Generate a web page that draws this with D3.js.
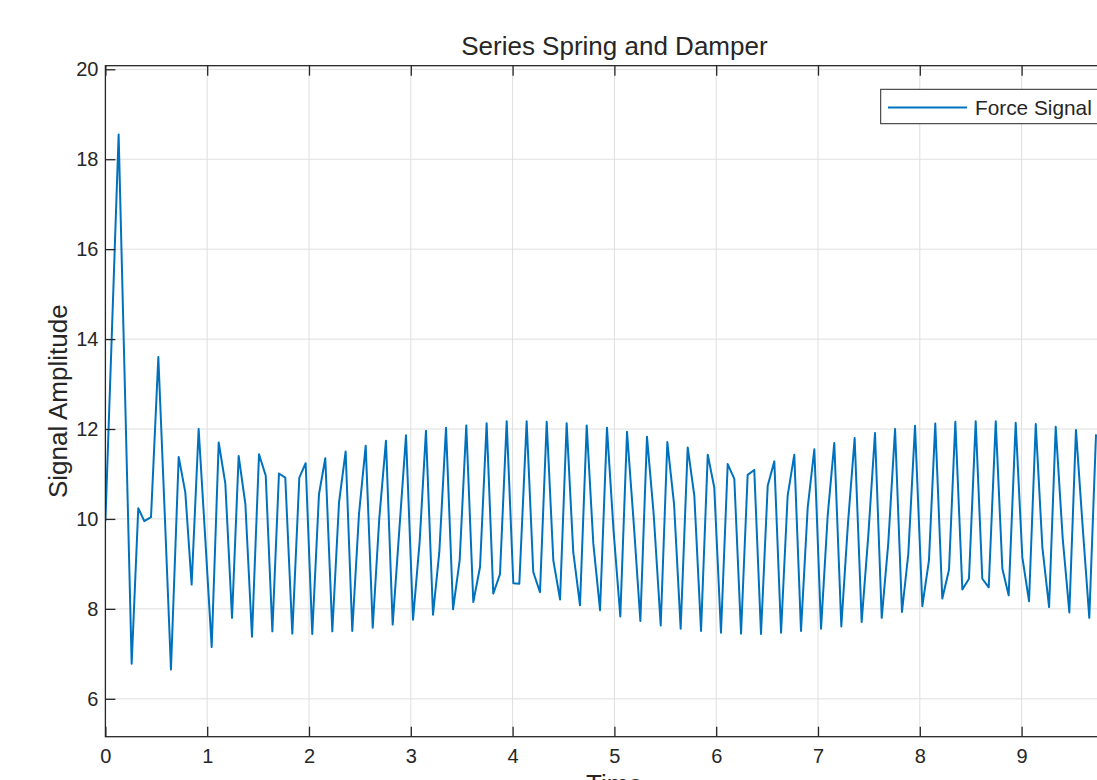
<!DOCTYPE html>
<html>
<head>
<meta charset="utf-8">
<script src="https://cdn.jsdelivr.net/npm/d3@7"></script>
<style>
  body { margin: 0; background: white; }
  text { font-family: "Liberation Sans", Arial, Helvetica, sans-serif; fill: #262626; }
</style>
</head>
<body>
<div id="chart"></div>
<script>
// sample times (s)
const times = [
  0.000, 0.066, 0.130, 0.195, 0.258, 0.323, 0.382, 0.448, 0.520, 0.585,
  0.644, 0.720, 0.785, 0.847, 0.916, 0.980, 1.044, 1.113, 1.178, 1.244,
  1.309, 1.375, 1.440, 1.509, 1.575, 1.640, 1.705, 1.767, 1.836, 1.905,
  1.967, 2.032, 2.098, 2.160, 2.229, 2.295, 2.360, 2.425, 2.491, 2.557,
  2.626, 2.690, 2.756, 2.822, 2.887, 2.953, 3.022, 3.087, 3.149, 3.218,
  3.280, 3.346, 3.415, 3.480, 3.545, 3.614, 3.680, 3.745, 3.810, 3.876,
  3.942, 4.007, 4.066, 4.138, 4.203, 4.269, 4.335, 4.400, 4.466, 4.531,
  4.596, 4.662, 4.728, 4.793, 4.859, 4.927, 4.993, 5.058, 5.124, 5.190,
  5.255, 5.320, 5.386, 5.455, 5.520, 5.586, 5.651, 5.720, 5.785, 5.851,
  5.917, 5.981, 6.047, 6.113, 6.178, 6.244, 6.309, 6.374, 6.440, 6.506,
  6.571, 6.637, 6.702, 6.767, 6.833, 6.899, 6.964, 7.030, 7.095, 7.160,
  7.229, 7.294, 7.360, 7.429, 7.494, 7.560, 7.626, 7.690, 7.757, 7.825,
  7.887, 7.953, 8.025, 8.090, 8.152, 8.221, 8.287, 8.349, 8.418, 8.483,
  8.549, 8.614, 8.677, 8.746, 8.811, 8.873, 8.942, 9.007, 9.073, 9.139,
  9.204, 9.270, 9.335, 9.404, 9.469, 9.534, 9.600, 9.665, 9.731
]

// force signal amplitude at each sample
const force = [
  9.95, 14.30, 18.55, 12.60, 6.78, 10.24, 9.95, 10.04, 13.60, 10.00,
  6.65, 11.38, 10.59, 8.54, 12.00, 9.60, 7.15, 11.70, 10.79, 7.80,
  11.40, 10.33, 7.38, 11.44, 10.96, 7.50, 11.01, 10.92, 7.45, 10.92,
  11.24, 7.44, 10.55, 11.35, 7.50, 10.37, 11.50, 7.51, 10.11, 11.63,
  7.58, 10.00, 11.74, 7.65, 9.75, 11.86, 7.76, 9.50, 11.96, 7.87,
  9.26, 12.03, 7.99, 9.08, 12.08, 8.15, 8.93, 12.13, 8.34, 8.77,
  12.17, 8.57, 8.56, 12.17, 8.82, 8.37, 12.16, 9.08, 8.21, 12.13,
  9.26, 8.08, 12.08, 9.45, 7.97, 12.03, 9.70, 7.83, 11.94, 9.90,
  7.73, 11.83, 10.10, 7.63, 11.71, 10.33, 7.56, 11.59, 10.52, 7.51,
  11.43, 10.70, 7.47, 11.22, 10.89, 7.45, 10.98, 11.09, 7.44, 10.74,
  11.28, 7.47, 10.52, 11.43, 7.51, 10.26, 11.55, 7.56, 10.07, 11.69,
  7.61, 9.89, 11.80, 7.71, 9.63, 11.91, 7.80, 9.45, 12.00, 7.93,
  9.22, 12.07, 8.06, 9.08, 12.12, 8.23, 8.87, 12.16, 8.43, 8.67,
  12.17, 8.67, 8.48, 12.17, 8.89, 8.30, 12.14, 9.15, 8.17, 12.11,
  9.37, 8.04, 12.05, 9.56, 7.92, 11.98, 9.82, 7.80, 11.88
]

const xTicks = [0, 1, 2, 3, 4, 5, 6, 7, 8, 9, 10]
const yTicks = [6, 8, 10, 12, 14, 16, 18, 20]

const data = times.map((t, i) => ({ t: t, v: force[i] }))

const W = 1097, H = 780
const plotLeft = 105.4, plotRight = 1123.4, plotTop = 65.7, plotBottom = 736.7
const axisColor = '#262626'
const gridColor = '#dfdfdf'
const fontFam = '"Liberation Sans", Arial, sans-serif'

const svg = d3.select('#chart').append('svg')
  .attr('width', W)
  .attr('height', H)
  .style('background', 'white')

const xScale = d3.scaleLinear()
  .domain([0, 10])
  .range([plotLeft, plotRight])

const yScale = d3.scaleLinear()
  .domain([5.157, 20.08])
  .range([plotBottom, plotTop])

// grid
svg.append('g').selectAll('line')
  .data(xTicks)
  .enter()
  .append('line')
  .attr('x1', d => xScale(d)).attr('x2', d => xScale(d))
  .attr('y1', plotTop).attr('y2', plotBottom)
  .attr('stroke', gridColor)
  .attr('stroke-width', 1)

svg.append('g').selectAll('line')
  .data(yTicks)
  .enter()
  .append('line')
  .attr('x1', plotLeft).attr('x2', plotRight)
  .attr('y1', d => yScale(d)).attr('y2', d => yScale(d))
  .attr('stroke', gridColor)
  .attr('stroke-width', 1)

// the signal, clipped to the axes box
svg.append('clipPath').attr('id', 'plotClip')
  .append('rect')
  .attr('x', plotLeft).attr('y', plotTop)
  .attr('width', plotRight - plotLeft).attr('height', plotBottom - plotTop)

const line = d3.line()
  .x(d => xScale(d.t))
  .y(d => yScale(d.v))

svg.append('path')
  .datum(data)
  .attr('clip-path', 'url(#plotClip)')
  .attr('fill', 'none')
  .attr('stroke', '#0072BD')
  .attr('stroke-width', 2)
  .attr('stroke-linejoin', 'round')
  .attr('d', line)

// axes with inward ticks (bottom/top/left/right)
const tickLen = 10
svg.append('g')
  .attr('transform', `translate(0,${plotBottom})`)
  .call(d3.axisBottom(xScale).tickValues(xTicks).tickSizeInner(-tickLen).tickSizeOuter(0).tickPadding(12))
  .call(g => g.selectAll('text').attr('font-size', 20).attr('fill', axisColor).style('font-family', fontFam))
  // the window crops the figure at the right, so the "10" label is not visible
  .call(g => g.selectAll('.tick').filter(d => xScale(d) > W).select('text').remove())

svg.append('g')
  .attr('transform', `translate(0,${plotTop})`)
  .call(d3.axisTop(xScale).tickValues(xTicks).tickSizeInner(-tickLen).tickSizeOuter(0).tickFormat(''))

svg.append('g')
  .attr('transform', `translate(${plotLeft},0)`)
  .call(d3.axisLeft(yScale).tickValues(yTicks).tickSizeInner(-tickLen).tickSizeOuter(0).tickPadding(7))
  .call(g => g.selectAll('text').attr('font-size', 20).attr('fill', axisColor).style('font-family', fontFam))

svg.append('g')
  .attr('transform', `translate(${plotRight},0)`)
  .call(d3.axisRight(yScale).tickValues(yTicks).tickSizeInner(-tickLen).tickSizeOuter(0).tickFormat(''))

svg.selectAll('.domain').remove()
svg.selectAll('.tick line').attr('stroke', axisColor).attr('stroke-width', 1.3)

svg.append('rect')
  .attr('x', plotLeft).attr('y', plotTop)
  .attr('width', plotRight - plotLeft).attr('height', plotBottom - plotTop)
  .attr('fill', 'none')
  .attr('stroke', axisColor)
  .attr('stroke-width', 1.3)

// title and labels
svg.append('text')
  .attr('x', (plotLeft + plotRight) / 2)
  .attr('y', 55)
  .attr('text-anchor', 'middle')
  .attr('font-size', 26)
  .text('Series Spring and Damper')

svg.append('text')
  .attr('transform', `translate(67,${(plotTop + plotBottom) / 2}) rotate(-90)`)
  .attr('text-anchor', 'middle')
  .attr('font-size', 26)
  .text('Signal Amplitude')

svg.append('text')
  .attr('x', (plotLeft + plotRight) / 2)
  .attr('y', 793)
  .attr('text-anchor', 'middle')
  .attr('font-size', 26)
  .text('Time')

// legend
const legend = svg.append('g')
legend.append('rect')
  .attr('x', 880.7).attr('y', 89.3)
  .attr('width', 225).attr('height', 34.4)
  .attr('fill', 'white')
  .attr('stroke', axisColor)
  .attr('stroke-width', 1)
legend.append('line')
  .attr('x1', 888).attr('x2', 967)
  .attr('y1', 107.5).attr('y2', 107.5)
  .attr('stroke', '#0072BD')
  .attr('stroke-width', 2)
legend.append('text')
  .attr('x', 975)
  .attr('y', 114.5)
  .attr('font-size', 20.8)
  .text('Force Signal')
</script>
</body>
</html>
